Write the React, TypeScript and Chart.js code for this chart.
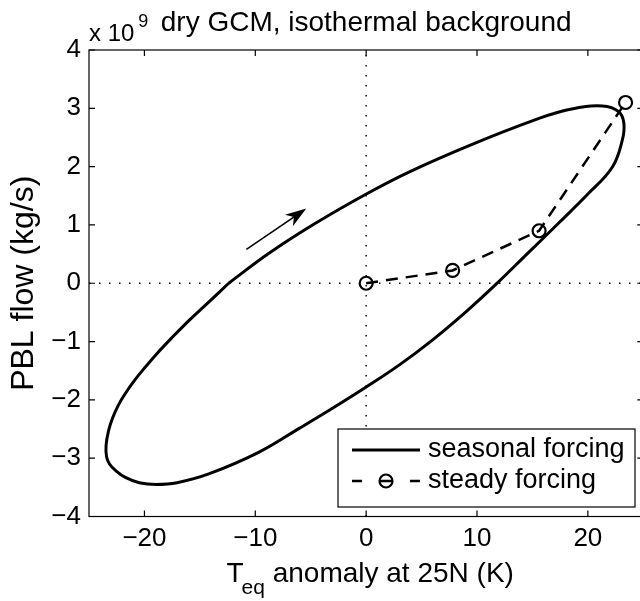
import React, { useEffect, useRef } from 'react';
import { Chart, registerables } from 'chart.js';

Chart.register(...registerables);

const FONT = '"Liberation Sans", Arial, Helvetica, sans-serif';

// seasonal forcing loop (T_eq anomaly in K, PBL flow in 1e9 kg/s)
const seasonalX = [-12.4, -8.8, -4.65, 0.1, 4.0, 9.4, 15.35, 18.3, 21.3, 22.8, 23.25, 23.1, 22.2, 20.0, 17.3, 14.5, 11.7, 9.0, 6.0, 3.0, 0, -3.0, -6.0, -9.7, -14.2, -17.06, -18.94, -20.47, -21.72, -22.61, -23.15, -23.42, -23.46, -23.25, -22.89, -22.35, -21.72, -20.91, -20.02, -18.94, -17.6, -15.99, -14.18, -12.4];
const seasonalY = [0.0, 0.51, 1.02, 1.54, 1.92, 2.37, 2.81, 2.98, 3.04, 2.94, 2.74, 2.45, 1.99, 1.53, 1.02, 0.5, -0.02, -0.49, -0.97, -1.4, -1.78, -2.14, -2.485, -2.9, -3.27, -3.42, -3.45, -3.42, -3.33, -3.21, -3.1, -2.97, -2.78, -2.54, -2.32, -2.09, -1.89, -1.67, -1.46, -1.22, -0.95, -0.64, -0.32, 0.0];

// steady forcing points
const steadyX = [0, 7.8, 15.6, 23.4];
const steadyY = [0, 0.22, 0.9, 3.1];

// axes
const xRange = [-25, 25];
const yRange = [-4, 4];
const xTicks = [-20, -10, 0, 10, 20];
const yTicks = [-4, -3, -2, -1, 0, 1, 2, 3, 4];

// zero reference lines
const hZeroX = [-25, 25];
const hZeroY = [0, 0];
const vZeroX = [0, 0];
const vZeroY = [-4, 4];

// direction arrow (data coords)
const arrowX = [-10.8, -5.4];
const arrowY = [0.58, 1.28];

const legendLabels = ['seasonal forcing', 'steady forcing'];
const titleText = 'dry GCM, isothermal background';
const yLabel = 'PBL flow (kg/s)';
const xLabelMain = 'T';
const xLabelSub = 'eq';
const xLabelRest = ' anomaly at 25N (K)';
const exponentBase = 'x 10';
const exponentPow = '9';

const fmt = (v: number) => (v < 0 ? '\u2212' + Math.abs(v) : String(v));

const decorations = {
  id: 'decorations',
  afterDraw(chart: any) {
    const { ctx, chartArea: ca, scales } = chart;
    const xs = scales.x;
    const ys = scales.y;
    ctx.save();
    ctx.strokeStyle = '#000';
    ctx.fillStyle = '#000';

    // axes box
    ctx.lineWidth = 1.2;
    ctx.strokeRect(ca.left, ca.top, ca.right - ca.left, ca.bottom - ca.top);

    // inward ticks
    const tl = 6;
    ctx.beginPath();
    xTicks.forEach((v) => {
      const px = xs.getPixelForValue(v);
      ctx.moveTo(px, ca.bottom);
      ctx.lineTo(px, ca.bottom - tl);
      ctx.moveTo(px, ca.top);
      ctx.lineTo(px, ca.top + tl);
    });
    yTicks.forEach((v) => {
      const py = ys.getPixelForValue(v);
      ctx.moveTo(ca.left, py);
      ctx.lineTo(ca.left + tl, py);
      ctx.moveTo(ca.right, py);
      ctx.lineTo(ca.right - tl, py);
    });
    ctx.stroke();

    // arrow
    const ax0 = xs.getPixelForValue(arrowX[0]);
    const ay0 = ys.getPixelForValue(arrowY[0]);
    const ax1 = xs.getPixelForValue(arrowX[1]);
    const ay1 = ys.getPixelForValue(arrowY[1]);
    const len = Math.hypot(ax1 - ax0, ay1 - ay0);
    const dx = (ax1 - ax0) / len;
    const dy = (ay1 - ay0) / len;
    const nx = -dy;
    const ny = dx;
    const L = 21;
    const W = 7;
    ctx.lineWidth = 1.6;
    ctx.beginPath();
    ctx.moveTo(ax0, ay0);
    ctx.lineTo(ax1 - dx * 12, ay1 - dy * 12);
    ctx.stroke();
    ctx.beginPath();
    ctx.moveTo(ax1, ay1);
    ctx.lineTo(ax1 - dx * L + nx * W, ay1 - dy * L + ny * W);
    ctx.lineTo(ax1 - dx * (L - 6), ay1 - dy * (L - 6));
    ctx.lineTo(ax1 - dx * L - nx * W, ay1 - dy * L - ny * W);
    ctx.closePath();
    ctx.fill();

    // legend
    const bx = 338, by = 429, bw = 297, bh = 78;
    ctx.fillStyle = '#fff';
    ctx.fillRect(bx, by, bw, bh);
    ctx.lineWidth = 1.2;
    ctx.strokeRect(bx, by, bw, bh);
    ctx.fillStyle = '#000';
    const r1 = 450, r2 = 481;
    ctx.lineWidth = 3;
    ctx.beginPath();
    ctx.moveTo(352, r1);
    ctx.lineTo(420, r1);
    ctx.stroke();
    ctx.lineWidth = 2.5;
    ctx.beginPath();
    ctx.moveTo(352, r2);
    ctx.lineTo(362, r2);
    ctx.moveTo(410, r2);
    ctx.lineTo(420, r2);
    ctx.moveTo(379, r2);
    ctx.lineTo(393, r2);
    ctx.stroke();
    ctx.lineWidth = 2.2;
    ctx.beginPath();
    ctx.arc(386, r2, 6.5, 0, Math.PI * 2);
    ctx.stroke();
    ctx.font = `27px ${FONT}`;
    ctx.textAlign = 'left';
    ctx.textBaseline = 'middle';
    ctx.fillText(legendLabels[0], 428, r1);
    ctx.fillText(legendLabels[1], 428, r2);

    // title
    const cx = (ca.left + ca.right) / 2;
    ctx.textBaseline = 'alphabetic';
    ctx.textAlign = 'center';
    ctx.font = `28px ${FONT}`;
    ctx.fillText(titleText, cx, 31);

    // exponent
    ctx.textAlign = 'left';
    ctx.font = `24px ${FONT}`;
    ctx.fillText(exponentBase, 89, 41);
    const ew = ctx.measureText(exponentBase).width;
    ctx.font = `18px ${FONT}`;
    ctx.fillText(exponentPow, 89 + ew + 4, 27);

    // x label with subscript
    ctx.font = `28px ${FONT}`;
    const wT = ctx.measureText(xLabelMain).width;
    const wR = ctx.measureText(xLabelRest).width;
    ctx.font = `21px ${FONT}`;
    const wS = ctx.measureText(xLabelSub).width;
    const total = wT - 2 + wS + wR;
    let lx = cx - total / 2 + 4;
    const base = 582;
    ctx.font = `28px ${FONT}`;
    ctx.fillText(xLabelMain, lx, base);
    lx += wT - 2;
    ctx.font = `21px ${FONT}`;
    ctx.fillText(xLabelSub, lx, base + 12);
    lx += wS;
    ctx.font = `28px ${FONT}`;
    ctx.fillText(xLabelRest, lx, base);

    // y label
    ctx.save();
    ctx.translate(24, (ca.top + ca.bottom) / 2);
    ctx.rotate(-Math.PI / 2);
    ctx.textAlign = 'center';
    ctx.textBaseline = 'middle';
    ctx.font = `32px ${FONT}`;
    ctx.fillText(yLabel, 0, 0);
    ctx.restore();

    ctx.restore();
  },
};

export default function App() {
  const ref = useRef<HTMLCanvasElement>(null);
  useEffect(() => {
    if (!ref.current) return;
    const chart = new Chart(ref.current, {
      type: 'scatter',
      data: {
        datasets: [
          {
            label: legendLabels[0],
            data: seasonalX.map((x, i) => ({ x, y: seasonalY[i] })),
            showLine: true,
            borderColor: '#000',
            borderWidth: 3,
            pointRadius: 0,
            tension: 0.4,
            fill: false,
          },
          {
            label: legendLabels[1],
            data: steadyX.map((x, i) => ({ x, y: steadyY[i] })),
            showLine: true,
            borderColor: '#000',
            borderWidth: 2.5,
            borderDash: [12, 8],
            pointRadius: 6.5,
            pointBorderWidth: 2.2,
            pointBorderColor: '#000',
            pointBackgroundColor: 'rgba(0,0,0,0)',
            tension: 0,
            fill: false,
          },
          {
            label: 'zero-h',
            data: hZeroX.map((x, i) => ({ x, y: hZeroY[i] })),
            showLine: true,
            borderColor: '#000',
            borderWidth: 1.4,
            borderDash: [1.5, 8.5],
            pointRadius: 0,
            fill: false,
          },
          {
            label: 'zero-v',
            data: vZeroX.map((x, i) => ({ x, y: vZeroY[i] })),
            showLine: true,
            borderColor: '#000',
            borderWidth: 1.4,
            borderDash: [1.5, 8.5],
            pointRadius: 0,
            fill: false,
          },
        ],
      },
      options: {
        responsive: false,
        animation: false,
        events: [],
        layout: { padding: { top: 50, right: 4, left: 0, bottom: 0 } },
        plugins: {
          legend: { display: false },
          tooltip: { enabled: false },
          title: { display: false },
        },
        scales: {
          x: {
            type: 'linear',
            min: xRange[0],
            max: xRange[1],
            afterBuildTicks: (s: any) => {
              s.ticks = xTicks.map((v) => ({ value: v }));
            },
            afterFit: (s: any) => {
              s.height = 84.5;
            },
            grid: { display: false, drawTicks: false },
            border: { display: false },
            ticks: {
              color: '#000',
              padding: 7,
              font: { family: FONT, size: 26 },
              callback: (v: any) => fmt(Number(v)),
            },
          },
          y: {
            type: 'linear',
            min: yRange[0],
            max: yRange[1],
            afterBuildTicks: (s: any) => {
              s.ticks = yTicks.map((v) => ({ value: v }));
            },
            afterFit: (s: any) => {
              s.width = 89;
            },
            grid: { display: false, drawTicks: false },
            border: { display: false },
            ticks: {
              color: '#000',
              padding: 8,
              font: { family: FONT, size: 26 },
              callback: (v: any) => fmt(Number(v)),
            },
          },
        },
      },
      plugins: [decorations],
    });
    return () => chart.destroy();
  }, []);

  return (
    <div
      style={{
        position: 'fixed',
        left: 0,
        top: 0,
        width: 640,
        height: 601,
        overflow: 'hidden',
        background: '#fff',
      }}
    >
      <canvas ref={ref} width={652} height={601} style={{ display: 'block' }} />
    </div>
  );
}
